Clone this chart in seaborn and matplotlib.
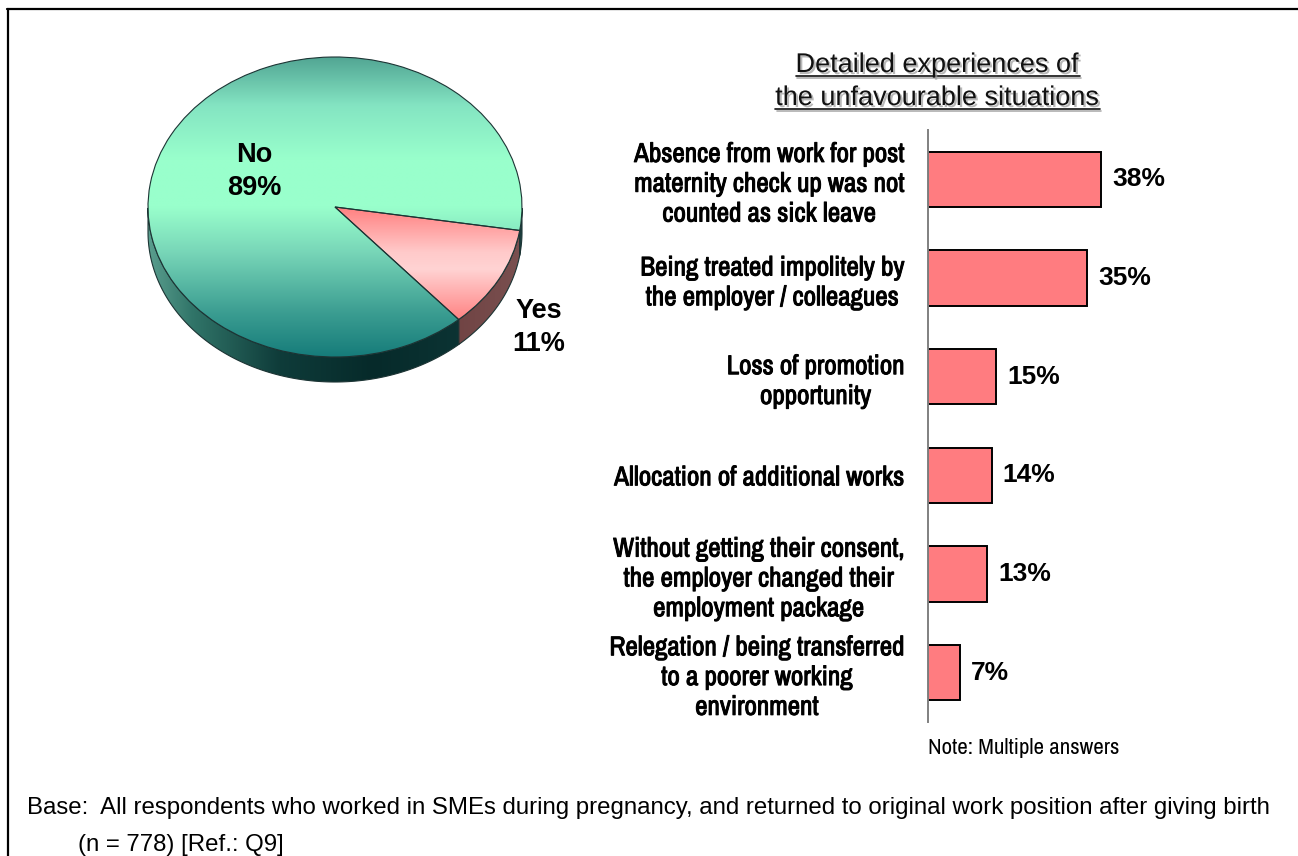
import numpy as np
import pandas as pd
import matplotlib
matplotlib.use("Agg")
import matplotlib.pyplot as plt
import seaborn as sns
from matplotlib import font_manager as fm
from matplotlib.patches import Polygon
from matplotlib.colors import LinearSegmentedColormap
from matplotlib.lines import Line2D
import matplotlib.patheffects as pe

# ---------------- data ----------------
pie_labels = ["No", "Yes"]
pie_values = [89, 11]

categories = [
    "Absence from work for post\nmaternity check up was not\ncounted as sick leave",
    "Being treated impolitely by\nthe employer / colleagues",
    "Loss of promotion\nopportunity",
    "Allocation of additional works",
    "Without getting their consent,\nthe employer changed their\nemployment package",
    "Relegation / being transferred\nto a poorer working\nenvironment",
]
bar_values = [38, 35, 15, 14, 13, 7]
bar_labels = ["38%", "35%", "15%", "14%", "13%", "7%"]

title_lines = ["Detailed experiences of", "the unfavourable situations"]
note_text = "Note: Multiple answers"
base_lines = ["Base:  All respondents who worked in SMEs during pregnancy, and returned to original work position after giving birth",
              "(n = 778) [Ref.: Q9]"]

# ---------------- style ----------------
sns.set_style("white")
names = {f.name for f in fm.fontManager.ttflist}
narrow_name = None
for cand in ["Liberation Sans Narrow", "Archivo Narrow"]:
    if cand in names:
        narrow_name = cand
        break
plt.rcParams["font.family"] = ["Liberation Sans", "DejaVu Sans"]
plt.rcParams["text.color"] = "black"
NARROW = [narrow_name, "Liberation Sans", "DejaVu Sans"] if narrow_name else ["Liberation Sans", "DejaVu Sans"]
NSCALE = 1.0 if narrow_name else 0.8
# faux-bold for the narrow face (only a regular weight is installed)
bold_fx = [pe.withStroke(linewidth=0.7, foreground="black")] if narrow_name else []

W, H = 1298, 856
fig = plt.figure(figsize=(W / 100, H / 100), dpi=100)
fig.patch.set_facecolor("white")


def fx(x):
    return x / W


def fy(y):
    return 1 - y / H


# ---------------- 3D pie ----------------
cx, cy, rx, ry, depth_px = 335, 207, 187, 150, 25
xl, xr, yt, yb = -1.1, 1.1, 1.1, -1.35
left_px = cx + xl * rx
top_px = cy - yt * ry
w_px = (xr - xl) * rx
h_px = (yt - yb) * ry
axp = fig.add_axes([fx(left_px), fy(top_px + h_px), w_px / W, h_px / H])
wedges, _ = axp.pie(pie_values, startangle=-9, counterclock=True,
                    colors=["none", "none"],
                    wedgeprops=dict(edgecolor="#1c3434", linewidth=0.8))
axp.set_aspect("auto")
d = depth_px / ry

top_cmaps = [
    LinearSegmentedColormap.from_list("tealtop", [
        (0.0, "#167c7a"), (0.15, "#3c9e92"), (0.35, "#78d6b8"),
        (0.5, "#99ffcc"), (0.66, "#99ffcc"), (0.84, "#84e4c2"), (1.0, "#52a694")]),
    LinearSegmentedColormap.from_list("pinktop", [
        (0.0, "#ff8282"), (0.45, "#ffd3d3"), (0.6, "#ffcaca"), (1.0, "#ff8080")]),
]
side_cmaps = [
    LinearSegmentedColormap.from_list("tealside", [
        (0.0, "#5a9e8e"), (0.12, "#307468"), (0.35, "#0f3c3a"),
        (0.6, "#062a2a"), (0.85, "#0c3434"), (1.0, "#1c4444")]),
    LinearSegmentedColormap.from_list("pinkside", [
        (0.0, "#4e2020"), (0.5, "#5e2c2c"), (1.0, "#7a5050")]),
]

grad = np.linspace(0, 1, 256).reshape(-1, 1)
hgrad = np.linspace(0, 1, 256).reshape(1, -1)

# sides first
for i, w in enumerate(wedges):
    t = np.deg2rad(np.linspace(w.theta1, w.theta2, 600))
    vis = np.sin(t) <= 1e-9
    runs = []
    cur = []
    for tt, v in zip(t, vis):
        if v:
            cur.append(tt)
        elif cur:
            runs.append(cur)
            cur = []
    if cur:
        runs.append(cur)
    for run in runs:
        run = np.array(run)
        if len(run) < 2:
            continue
        top = np.column_stack([np.cos(run), np.sin(run)])
        bot = np.column_stack([np.cos(run[::-1]), np.sin(run[::-1]) - d])
        poly = Polygon(np.vstack([top, bot]), closed=True, facecolor="none",
                       edgecolor="#1c3434", linewidth=0.8, zorder=3)
        axp.add_patch(poly)
        im = axp.imshow(hgrad, cmap=side_cmaps[i], extent=[-1, 1, -1 - d, 1],
                        aspect="auto", origin="lower", zorder=2, interpolation="bilinear")
        im.set_clip_path(poly)

# top gradients
for i, w in enumerate(wedges):
    if i == 0:
        ext = [-1, 1, -1, 1]
    else:
        verts = w.get_path().vertices
        tr = w.get_patch_transform()
        v = tr.transform(verts)
        ext = [v[:, 0].min(), v[:, 0].max(), v[:, 1].min(), v[:, 1].max()]
    im = axp.imshow(grad, cmap=top_cmaps[i], extent=ext, aspect="auto",
                    origin="lower", zorder=4, interpolation="bilinear")
    im.set_clip_path(w)
    w.set_zorder(5)

axp.set_xlim(xl, xr)
axp.set_ylim(yb, yt)
axp.axis("off")

# pie labels
fig.text(fx(254), fy(155), pie_labels[0], ha="center", va="center", fontsize=19.5, fontweight="bold")
fig.text(fx(254), fy(188), f"{pie_values[0]}%", ha="center", va="center", fontsize=19.5, fontweight="bold")
fig.text(fx(539), fy(311), pie_labels[1], ha="center", va="center", fontsize=19.5, fontweight="bold")
fig.text(fx(539), fy(344), f"{pie_values[1]}%", ha="center", va="center", fontsize=19.5, fontweight="bold")

# ---------------- bar chart ----------------
ax_l, ax_t, ax_b = 928, 130, 722
ax_w = 364
axb = fig.add_axes([fx(ax_l), fy(ax_b), ax_w / W, (ax_b - ax_t) / H])
df = pd.DataFrame({"cat": categories, "val": bar_values})
sns.barplot(data=df, x="val", y="cat", orient="h", color="#ff7c80", saturation=1,
            edgecolor="black", linewidth=1.4, width=0.56, ax=axb)
axb.set_xlim(0, 80)
axb.set_ylim(len(categories) - 0.5, -0.5)
axb.set_xlabel("")
axb.set_ylabel("")
axb.set_xticks([])
for s in ["top", "right", "bottom"]:
    axb.spines[s].set_visible(False)
axb.spines["left"].set_color("#808080")
axb.spines["left"].set_linewidth(1.4)
axb.set_yticks(range(len(categories)))
axb.set_yticks(np.arange(-0.5, len(categories), 1.0), minor=True)
axb.tick_params(axis="y", which="major", length=0, pad=17, labelcolor="black")
axb.tick_params(axis="y", which="minor", length=5, width=1.1, color="#808080", direction="in")
axb.set_yticklabels(categories, fontsize=19.5 * NSCALE, fontweight="bold", family=NARROW,
                    linespacing=1.24)
for lab in axb.get_yticklabels():
    lab.set_multialignment("center")
    lab.set_path_effects(bold_fx)
axb.bar_label(axb.containers[0], labels=bar_labels, padding=8, fontsize=19, fontweight="bold")
axb.set_facecolor("none")

# ---------------- title ----------------
shadow = [pe.withSimplePatchShadow(offset=(1.5, -1.5), shadow_rgbFace="#9a9a9a", alpha=0.7)]
tcx = 937.5
title_objs = []
for ln, base_y in zip(title_lines, [72, 105]):
    t = fig.text(fx(tcx), fy(base_y), ln, ha="center", va="baseline", fontsize=19.5,
                 color="#111111", path_effects=shadow)
    title_objs.append((t, base_y))

fig.canvas.draw()
rend = fig.canvas.get_renderer()
for t, base_y in title_objs:
    bb = t.get_window_extent(rend)
    x0, x1 = bb.x0 / W, bb.x1 / W
    uy = base_y + 4
    fig.add_artist(Line2D([x0 + 1.5 / W, x1 + 1.5 / W], [fy(uy + 1.5), fy(uy + 1.5)],
                          color="#9a9a9a", lw=1.2, alpha=0.8))
    fig.add_artist(Line2D([x0, x1], [fy(uy), fy(uy)], color="#111111", lw=1.2))

# ---------------- notes ----------------
fig.text(fx(928), fy(748), note_text, ha="left", va="center", fontsize=16.5 * NSCALE, family=NARROW)
fig.text(fx(27), fy(808), base_lines[0], ha="left", va="center", fontsize=17.3)
fig.text(fx(78), fy(845), base_lines[1], ha="left", va="center", fontsize=17.3)

# ---------------- border ----------------
fig.add_artist(Line2D([fx(7), fx(W)], [fy(9), fy(9)], color="black", lw=1.6))
fig.add_artist(Line2D([fx(8), fx(8)], [fy(9), fy(H)], color="black", lw=1.6))

fig.savefig("out.png", dpi=100, facecolor="white")
